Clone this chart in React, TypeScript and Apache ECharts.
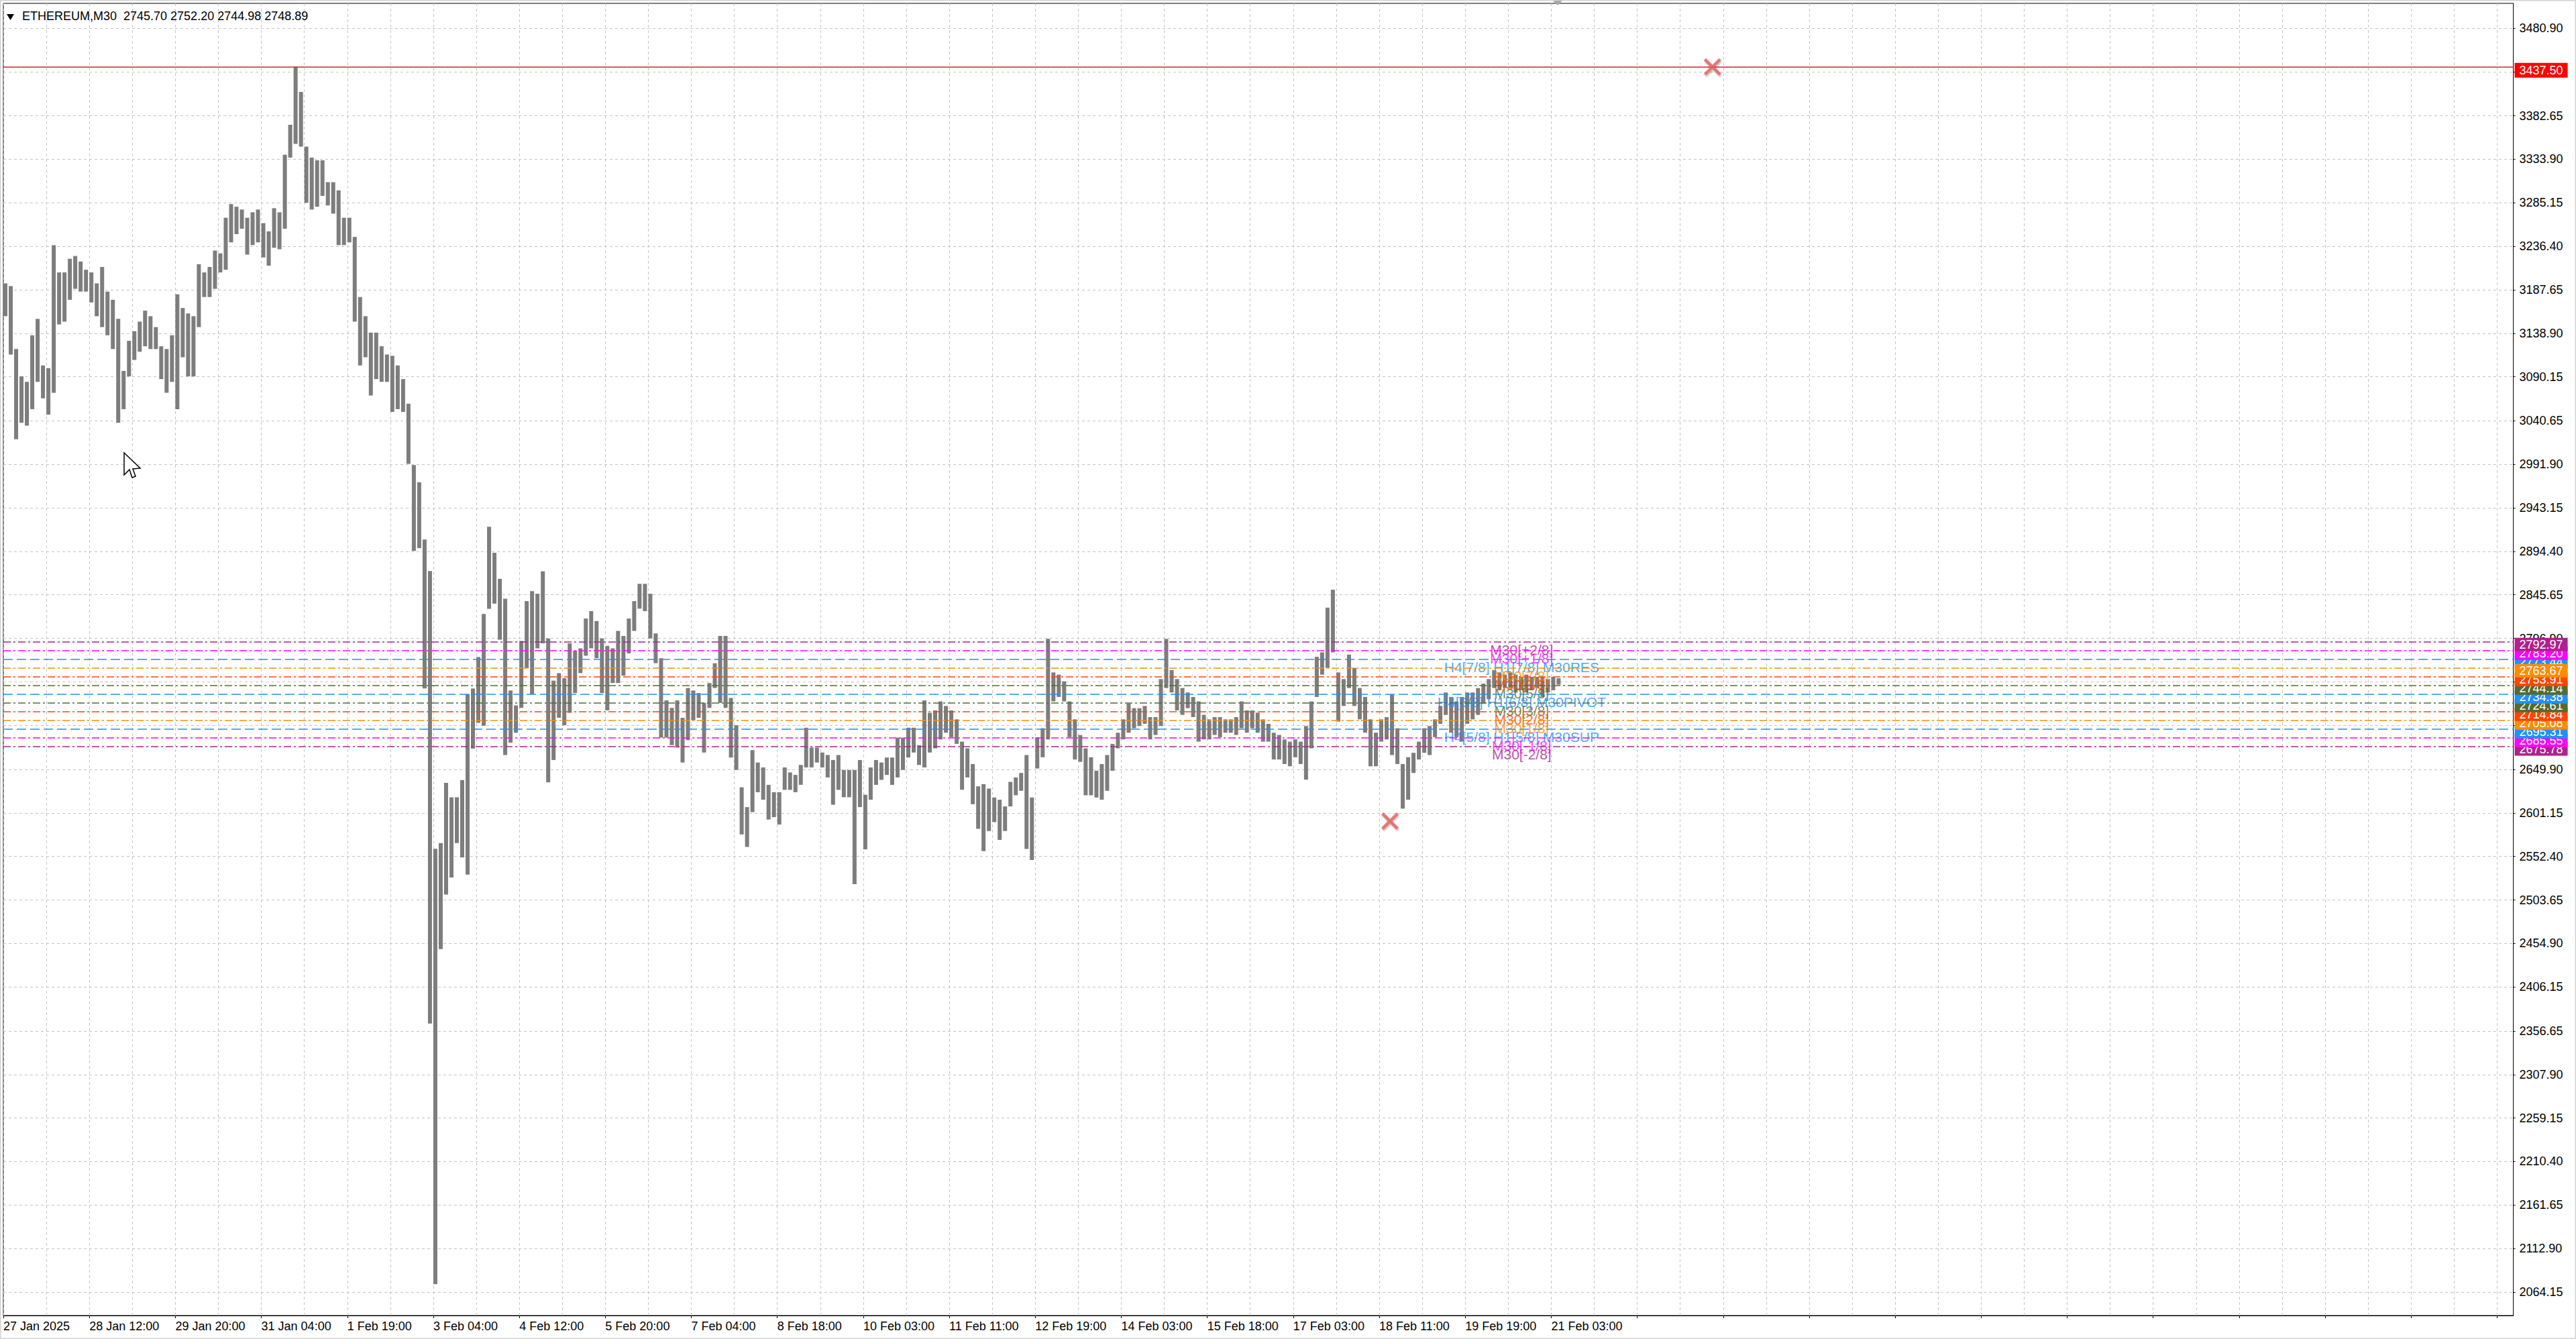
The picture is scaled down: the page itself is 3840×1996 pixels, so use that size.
import React, { useEffect, useRef } from "react";
import * as echarts from "echarts";

// ---------- data ----------
const TITLE = "ETHEREUM,M30  2745.70 2752.20 2744.98 2748.89";

// x-axis tick labels, one every 16 two-hour slots (= 64 M30 bars)
const X_LABELS = [
  "27 Jan 2025", "28 Jan 12:00", "29 Jan 20:00", "31 Jan 04:00", "1 Feb 19:00",
  "3 Feb 04:00", "4 Feb 12:00", "5 Feb 20:00", "7 Feb 04:00", "8 Feb 18:00",
  "10 Feb 03:00", "11 Feb 11:00", "12 Feb 19:00", "14 Feb 03:00", "15 Feb 18:00",
  "17 Feb 03:00", "18 Feb 11:00", "19 Feb 19:00", "21 Feb 03:00",
];
const SLOT_COUNT = 468; // visible two-hour slots including the right-hand shift
const LABEL_EVERY = 16;
const GRID_EVERY = 8;

// price range of each two-hour slot
const HIGHS = [
  3194.8, 3191.7, 3121.2, 3090.6, 3084.4, 3136.6, 3155.0, 3102.8, 3099.8, 3237.7,
  3207.1, 3207.1, 3222.4, 3225.5, 3219.3, 3210.1, 3207.1, 3194.8, 3213.2, 3185.6,
  3176.4, 3155.0, 3096.7, 3130.4, 3141.2, 3151.9, 3164.2, 3158.0, 3145.8, 3124.3,
  3121.2, 3136.6, 3182.6, 3167.2, 3161.1, 3158.0, 3216.3, 3207.1, 3213.2, 3231.6,
  3228.5, 3268.4, 3283.7, 3280.7, 3277.6, 3268.4, 3274.5, 3277.6, 3262.3, 3253.1,
  3279.1, 3274.5, 3339.0, 3372.6, 3437.5, 3409.4, 3348.1, 3335.8, 3332.8, 3332.8,
  3308.2, 3308.2, 3299.0, 3268.4, 3268.4, 3246.9, 3179.5, 3158.0, 3139.6, 3139.6,
  3124.3, 3115.1, 3113.6, 3102.8, 3087.5, 3059.9, 2991.1, 2971.8, 2907.6, 2872.3,
  2561.0, 2567.4, 2634.8, 2618.7, 2618.7, 2638.0, 2734.3, 2740.7, 2776.0, 2824.2,
  2922.0, 2892.8, 2863.6, 2841.3, 2738.4, 2721.7, 2794.0, 2838.6, 2849.7, 2846.9,
  2872.0, 2796.8, 2749.5, 2757.9, 2752.3, 2791.3, 2783.0, 2785.7, 2819.1, 2827.4,
  2816.3, 2796.8, 2788.5, 2785.7, 2805.2, 2799.6, 2819.1, 2838.6, 2858.0, 2858.0,
  2846.9, 2802.4, 2774.6, 2727.3, 2718.9, 2727.3, 2707.8, 2741.2, 2738.4, 2735.6,
  2724.5, 2746.8, 2769.0, 2799.6, 2799.6, 2730.1, 2699.5, 2629.9, 2607.7, 2671.6,
  2657.7, 2652.2, 2632.7, 2624.4, 2624.4, 2652.2, 2646.6, 2643.8, 2655.0, 2696.7,
  2674.4, 2674.4, 2668.9, 2666.1, 2660.5, 2666.1, 2649.4, 2649.4, 2649.4, 2660.5,
  2621.6, 2652.2, 2660.5, 2657.7, 2663.3, 2663.3, 2685.6, 2685.6, 2696.7, 2696.7,
  2677.2, 2727.3, 2713.4, 2716.1, 2726.2, 2721.1, 2716.1, 2706.1, 2681.1, 2673.6,
  2656.0, 2631.0, 2633.5, 2628.5, 2618.5, 2616.0, 2608.5, 2636.0, 2641.0, 2646.0,
  2666.1, 2618.5, 2686.1, 2696.1, 2796.3, 2758.7, 2756.2, 2748.7, 2726.2, 2706.1,
  2688.6, 2673.6, 2663.6, 2648.5, 2656.0, 2666.1, 2678.6, 2691.1, 2706.1, 2723.7,
  2718.6, 2718.6, 2721.1, 2708.6, 2708.6, 2751.2, 2796.3, 2761.2, 2751.2, 2741.2,
  2736.2, 2731.2, 2726.2, 2711.1, 2706.1, 2708.6, 2708.6, 2706.1, 2706.1, 2708.6,
  2726.2, 2716.1, 2716.1, 2713.6, 2706.1, 2701.1, 2691.1, 2688.6, 2683.6, 2681.1,
  2683.6, 2681.1, 2698.6, 2726.2, 2776.2, 2781.2, 2831.3, 2851.4, 2758.7, 2751.2,
  2778.7, 2763.7, 2741.2, 2731.2, 2706.1, 2691.1, 2706.1, 2708.6, 2733.7, 2696.1,
  2656.0, 2663.6, 2668.6, 2681.1, 2696.1, 2698.6, 2706.1, 2721.1, 2736.2, 2731.2,
  2726.2, 2731.2, 2736.2, 2736.2, 2741.2, 2746.2, 2751.2, 2761.2, 2758.7, 2756.2,
  2758.7, 2756.2, 2753.7, 2756.2, 2753.7, 2753.7, 2753.7, 2751.2, 2753.7, 2752.2,
];
const LOWS = [
  3158.0, 3115.1, 3020.1, 3038.5, 3035.4, 3053.8, 3084.4, 3066.0, 3047.6, 3072.2,
  3148.8, 3151.9, 3176.4, 3188.7, 3185.6, 3185.6, 3173.4, 3158.0, 3145.8, 3136.6,
  3121.2, 3038.5, 3053.8, 3090.6, 3109.0, 3118.2, 3124.3, 3121.2, 3121.2, 3087.5,
  3072.2, 3084.4, 3053.8, 3112.0, 3090.6, 3090.6, 3145.8, 3179.5, 3179.5, 3188.7,
  3207.1, 3210.1, 3240.8, 3250.0, 3256.1, 3227.0, 3237.7, 3240.8, 3223.9, 3214.7,
  3234.7, 3233.1, 3256.1, 3335.8, 3351.2, 3348.1, 3285.2, 3277.6, 3280.7, 3292.9,
  3282.2, 3273.0, 3237.7, 3237.7, 3240.8, 3151.9, 3102.8, 3112.0, 3069.1, 3087.5,
  3084.4, 3084.4, 3050.7, 3053.8, 3050.7, 2992.5, 2894.8, 2898.0, 2740.7, 2365.1,
  2073.0, 2448.6, 2509.6, 2528.8, 2567.4, 2551.3, 2532.1, 2673.3, 2702.2, 2699.0,
  2830.0, 2835.8, 2795.4, 2666.1, 2680.0, 2691.1, 2718.9, 2763.5, 2734.3, 2785.7,
  2791.3, 2635.5, 2660.5, 2707.8, 2699.5, 2713.4, 2735.6, 2757.9, 2777.4, 2785.7,
  2774.6, 2735.6, 2716.2, 2746.8, 2746.8, 2755.1, 2780.1, 2805.2, 2830.2, 2827.4,
  2796.8, 2769.0, 2685.6, 2685.6, 2677.2, 2674.4, 2657.7, 2682.8, 2705.0, 2707.8,
  2668.9, 2718.9, 2741.2, 2724.5, 2718.9, 2663.3, 2649.4, 2577.1, 2563.1, 2602.1,
  2624.4, 2616.0, 2593.8, 2596.5, 2588.2, 2627.1, 2627.1, 2624.4, 2632.7, 2652.2,
  2652.2, 2657.7, 2652.2, 2641.0, 2610.4, 2627.1, 2618.8, 2618.8, 2521.4, 2607.7,
  2560.4, 2616.0, 2632.7, 2638.3, 2643.8, 2632.7, 2641.0, 2649.4, 2663.3, 2668.9,
  2655.0, 2652.2, 2668.9, 2673.6, 2683.6, 2691.1, 2686.1, 2678.6, 2627.2, 2641.0,
  2611.0, 2583.4, 2558.4, 2580.9, 2590.9, 2570.9, 2580.9, 2608.5, 2621.0, 2626.0,
  2560.9, 2548.4, 2651.0, 2663.6, 2683.6, 2726.2, 2731.2, 2726.2, 2686.1, 2661.1,
  2658.5, 2621.0, 2621.0, 2618.5, 2616.0, 2626.0, 2648.5, 2673.6, 2683.6, 2691.1,
  2696.1, 2698.6, 2701.1, 2683.6, 2688.6, 2698.6, 2741.2, 2736.2, 2716.1, 2711.1,
  2718.6, 2708.6, 2681.1, 2683.6, 2683.6, 2688.6, 2686.1, 2691.1, 2691.1, 2688.6,
  2696.1, 2691.1, 2696.1, 2691.1, 2681.1, 2681.1, 2661.1, 2661.1, 2656.0, 2653.5,
  2663.6, 2656.0, 2638.5, 2673.6, 2731.2, 2756.2, 2763.7, 2781.2, 2703.6, 2721.1,
  2741.2, 2721.1, 2706.1, 2691.1, 2653.5, 2653.5, 2681.1, 2683.6, 2666.1, 2656.0,
  2606.0, 2616.0, 2646.0, 2661.1, 2668.6, 2666.1, 2686.1, 2701.1, 2711.1, 2691.1,
  2686.1, 2681.1, 2701.1, 2706.1, 2711.1, 2723.7, 2728.7, 2741.2, 2738.7, 2741.2,
  2741.2, 2736.2, 2738.7, 2736.2, 2738.7, 2741.2, 2731.2, 2736.2, 2738.7, 2744.98,
];

// price-axis grid values and the ones whose label is hidden under a price tag
const Y_TICKS = [
  3480.9, 3432.15, 3382.65, 3333.9, 3285.15, 3236.4, 3187.65, 3138.9, 3090.15, 3040.65,
  2991.9, 2943.15, 2894.4, 2845.65, 2796.9, 2748.15, 2699.4, 2649.9, 2601.15, 2552.4,
  2503.65, 2454.9, 2406.15, 2356.65, 2307.9, 2259.15, 2210.4, 2161.65, 2112.9, 2064.15,
];
const Y_HIDDEN_LABELS = [3432.15, 2748.15, 2699.4];
const Y_MIN = 2037.8;
const Y_MAX = 3508.7;

// Murrey math levels (top to bottom)
const LEVELS = [
  2792.97, 2783.2, 2773.44, 2763.67, 2753.91, 2744.14, 2734.38,
  2724.61, 2714.84, 2705.08, 2695.31, 2685.55, 2675.78,
];
const LEVEL_NAMES = [
  "M30[+2/8]", "M30[+1/8]", "H4[7/8] H1[7/8] M30RES", "M30[7/8]", "M30[6/8]",
  "M30[5/8]", "H4[6/8] H1[6/8] M30PIVOT", "M30[3/8]", "M30[2/8]", "M30[1/8]",
  "H4[5/8] H1[5/8] M30SUP", "M30[-1/8]", "M30[-2/8]",
];
const LEVEL_COLORS = [
  "#b0208e", "#ff00ff", "#1e90ff", "#ff8c00", "#ff4500", "#556b2f", "#1e90ff",
  "#556b2f", "#ff4500", "#ff8c00", "#1e90ff", "#ff00ff", "#b0208e",
];
const LEVEL_DASHED = [false, false, true, false, false, false, true, false, false, false, true, false, false];
const TAG_DRAW_ORDER = [12, 11, 10, 9, 8, 7, 6, 5, 4, 2, 1, 0, 3];
const LEVEL_TEXT_SLOT = 283;

const RED_LEVEL = 3437.5;
const CROSS_POINTS = [
  [318, 3437.5],
  [258, 2592.0],
];

const FONT = "'Liberation Sans', Arial, sans-serif";

export default function App() {
  const ref = useRef<HTMLDivElement>(null);

  useEffect(() => {
    if (!ref.current) return;
    const chart = echarts.init(ref.current, null, { renderer: "svg" });

    const categories = Array.from({ length: SLOT_COUNT }, (_, i) => `s${i}`);
    const bars = HIGHS.map((h, i) => [i, LOWS[i], h]);
    const yLabels = Y_TICKS.filter((v) => Y_HIDDEN_LABELS.indexOf(v) < 0);

    const tag = (color: string, pad: number[], outerTop: number) => ({
      show: true,
      position: "end",
      distance: 2,
      padding: [outerTop, 0, 0, 0],
      formatter: (p: any) => `{t|${Number(p.value).toFixed(2)}}`,
      rich: {
        t: {
          color: "#ffffff",
          backgroundColor: color,
          padding: pad,
          fontSize: 18,
          lineHeight: 18,
          fontFamily: FONT,
        },
      },
    });

    const markData: any[] = [
      {
        yAxis: RED_LEVEL,
        lineStyle: { color: "#c82828", width: 1.5, type: "solid" },
        label: tag("#ff0000", [2, 7, 2, 7], 10),
      },
    ];
    TAG_DRAW_ORDER.forEach((i) => {
      markData.push({
        yAxis: LEVELS[i],
        lineStyle: {
          color: LEVEL_COLORS[i],
          width: 1.5,
          type: LEVEL_DASHED[i] ? [14, 6] : [11, 4, 3, 4],
        },
        label: tag(LEVEL_COLORS[i], [1, 7, 1, 7], 8),
      });
    });

    const option: any = {
      animation: false,
      backgroundColor: "#ffffff",
      title: {
        text: TITLE,
        left: 33,
        top: 15,
        padding: 0,
        textStyle: { fontSize: 18, fontWeight: "normal", color: "#000", fontFamily: FONT },
      },
      grid: {
        left: 5,
        top: 5,
        right: 93.5,
        bottom: 35,
        show: true,
        borderColor: "#000",
        borderWidth: 1,
        backgroundColor: "#fff",
      },
      xAxis: {
        type: "category",
        data: categories,
        boundaryGap: false,
        axisLine: { show: true, lineStyle: { color: "#000", width: 1 } },
        axisTick: { show: true, interval: LABEL_EVERY - 1, length: 4, lineStyle: { color: "#000" } },
        axisLabel: {
          interval: LABEL_EVERY - 1,
          align: "left",
          margin: 7,
          color: "#000",
          fontSize: 18,
          fontFamily: FONT,
          formatter: (_v: string, idx: number) =>
            idx % LABEL_EVERY === 0 ? X_LABELS[idx / LABEL_EVERY] ?? "" : "",
        },
        splitLine: {
          show: true,
          interval: GRID_EVERY - 1,
          lineStyle: { color: "#c4c4c4", type: [4, 4], width: 1 },
        },
      },
      yAxis: {
        type: "value",
        position: "right",
        min: Y_MIN,
        max: Y_MAX,
        scale: true,
        axisLine: { show: true, lineStyle: { color: "#000", width: 1 } },
        axisTick: { show: true, length: 3, customValues: Y_TICKS, lineStyle: { color: "#000" } },
        axisLabel: {
          customValues: yLabels,
          margin: 9,
          color: "#000",
          fontSize: 18,
          fontFamily: FONT,
          formatter: (v: number) => v.toFixed(2),
        },
        splitLine: { show: true, lineStyle: { color: "#c4c4c4", type: [4, 4], width: 1 } },
      },
      series: [
        {
          type: "custom",
          silent: true,
          z: 2,
          encode: { x: 0, y: [1, 2] },
          data: bars,
          renderItem: (_params: any, api: any) => {
            const top = api.coord([api.value(0), api.value(2)]);
            const bot = api.coord([api.value(0), api.value(1)]);
            return {
              type: "rect",
              shape: { x: top[0], y: top[1], width: 6, height: Math.max(1, bot[1] - top[1]) },
              style: { fill: "#7d7d7d" },
            };
          },
        },
        {
          type: "line",
          data: [],
          silent: true,
          z: 3,
          clip: false,
          showSymbol: false,
          markLine: {
            silent: true,
            animation: false,
            symbol: ["none", "none"],
            data: markData,
          },
        },
        {
          type: "scatter",
          silent: true,
          z: 4,
          symbol: "circle",
          symbolSize: 1,
          itemStyle: { color: "rgba(0,0,0,0)" },
          data: LEVELS.map((v, i) => ({
            value: [LEVEL_TEXT_SLOT, v],
            label: { color: LEVEL_COLORS[i], formatter: LEVEL_NAMES[i] },
          })),
          label: {
            show: true,
            position: "bottom",
            distance: 0,
            offset: [-4, 0],
            fontSize: 21,
            lineHeight: 22,
            fontFamily: FONT,
          },
        },
        {
          type: "scatter",
          silent: true,
          z: 5,
          symbol:
            "path://M3,0 L12,9 L21,0 L24,3 L15,12 L24,21 L21,24 L12,15 L3,24 L0,21 L9,12 L0,3 Z",
          symbolSize: 26,
          itemStyle: {
            color: "#e35f5f",
            shadowColor: "rgba(0,0,0,0.35)",
            shadowBlur: 3,
            shadowOffsetX: 1,
            shadowOffsetY: 2,
          },
          data: CROSS_POINTS,
        },
      ],
      graphic: [
        {
          type: "rect",
          silent: true,
          shape: { x: 0.5, y: 0.5, width: 3839, height: 1995 },
          style: { fill: "none", stroke: "#d4d4d4", lineWidth: 2 },
          z: 0,
        },
        {
          type: "polygon",
          silent: true,
          shape: { points: [[10, 21], [21, 21], [15.5, 30]] },
          style: { fill: "#000" },
          z: 10,
        },
        {
          type: "polygon",
          silent: true,
          shape: { points: [[2315, 1], [2329, 1], [2322, 8]] },
          style: { fill: "#a8a8a8" },
          z: 10,
        },
        {
          type: "polygon",
          silent: true,
          x: 185,
          y: 675,
          shape: { points: [[0, 0], [0, 33], [8, 25], [12, 37], [17, 35], [13, 24], [24, 23]] },
          style: { fill: "#fff", stroke: "#000", lineWidth: 1.5 },
          z: 10,
        },
      ],
    };

    chart.setOption(option);
    return () => chart.dispose();
  }, []);

  return (
    <div
      ref={ref}
      style={{ position: "fixed", left: 0, top: 0, width: 3840, height: 1996, background: "#fff" }}
    />
  );
}
